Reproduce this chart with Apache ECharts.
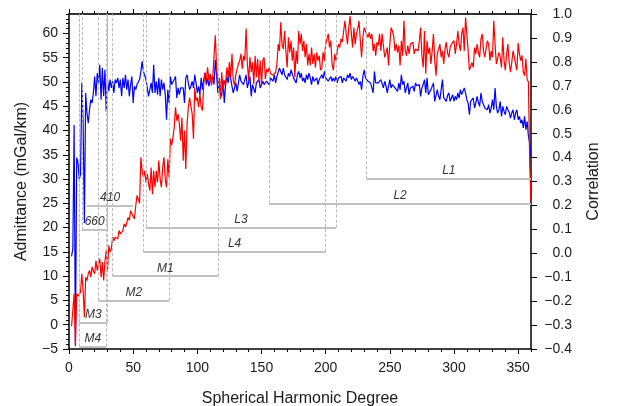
<!DOCTYPE html>
<html>
<head>
<meta charset="utf-8">
<script src="https://cdn.jsdelivr.net/npm/echarts@6/dist/echarts.min.js"></script>
<style>
html, body { margin: 0; padding: 0; background: #fff; }
#chart { width: 621px; height: 406px; }
</style>
</head>
<body>
<div id="chart"></div>
<script>
// Spherical harmonic degrees covered by both spectra
const firstDegree = 2;

// Admittance in mGal/km, one value per degree from 2 to 360 (left axis)
const admittance = [
  -0.3, 0.0, 6.4, -4.3, 6.4, 5.9, 5.7, 6.7, 10.5, 7.0,
  1.6, 9.8, 9.1, 10.5, 11.2, 9.8, 11.9, 11.0, 10.5, 13.2,
  11.2, 12.5, 13.6, 9.8, 12.9, 9.1, 13.0, 15.3, 11.2, 16.3,
  15.0, 15.6, 18.0, 17.3, 18.0, 18.4, 17.7, 19.4, 18.7, 19.0,
  19.4, 20.8, 20.1, 21.0, 22.1, 21.5, 23.5, 22.8, 22.5, 21.8,
  24.5, 26.6, 25.9, 25.0, 34.5, 31.7, 30.4, 31.7, 29.3, 31.1,
  29.0, 27.6, 32.4, 26.9, 31.7, 28.3, 31.7, 29.3, 33.8, 30.0,
  28.3, 32.4, 34.5, 30.0, 28.3, 34.1, 30.4, 38.3, 37.0, 38.6,
  40.7, 44.8, 42.0, 43.4, 41.3, 37.9, 42.7, 33.8, 40.0, 32.1,
  41.3, 44.8, 46.8, 45.0, 43.4, 38.3, 48.9, 46.1, 46.8, 44.8,
  47.5, 44.8, 44.1, 49.6, 52.0, 50.3, 53.0, 50.3, 51.7, 49.3,
  51.0, 51.4, 59.6, 53.0, 49.3, 50.6, 46.5, 52.0, 48.2, 50.3,
  49.3, 53.0, 51.0, 54.1, 51.0, 55.8, 50.3, 49.3, 51.5, 52.7,
  53.7, 54.4, 55.8, 52.7, 55.4, 54.4, 61.0, 53.7, 50.3, 55.1,
  52.0, 54.1, 49.6, 55.4, 51.0, 54.8, 50.3, 54.4, 49.3, 54.4,
  55.1, 50.6, 52.7, 52.0, 53.0, 51.7, 52.0, 51.4, 51.8, 52.0,
  53.7, 57.8, 56.4, 62.3, 57.8, 56.8, 60.5, 56.4, 53.0, 59.2,
  56.1, 58.5, 54.4, 57.1, 51.0, 56.4, 53.7, 60.5, 57.8, 59.9,
  56.4, 58.5, 55.1, 57.8, 53.4, 55.8, 53.4, 57.1, 53.7, 55.8,
  53.0, 56.1, 54.4, 55.4, 52.4, 53.0, 56.1, 54.4, 57.8, 57.5,
  59.9, 57.1, 58.5, 53.7, 52.4, 55.8, 54.4, 56.4, 57.8, 57.1,
  58.9, 58.2, 60.5, 62.6, 59.9, 57.8, 61.2, 63.6, 59.9, 57.1,
  61.2, 57.8, 59.9, 61.0, 62.6, 58.5, 55.1, 59.2, 61.2, 60.5,
  60.5, 59.2, 60.2, 58.9, 59.9, 56.4, 57.8, 55.4, 58.2, 57.5,
  59.9, 56.4, 59.9, 57.5, 55.1, 56.0, 57.1, 53.4, 57.8, 61.2,
  60.5, 59.5, 56.4, 57.8, 56.1, 57.5, 53.4, 58.5, 55.4, 62.6,
  56.4, 55.4, 57.5, 55.8, 57.8, 57.5, 58.2, 55.8, 56.8, 57.0,
  56.4, 58.5, 61.2, 55.4, 53.0, 60.5, 51.7, 58.5, 55.8, 57.1,
  53.7, 56.4, 59.9, 54.4, 51.3, 55.8, 56.1, 57.8, 55.1, 56.4,
  53.7, 56.8, 58.2, 56.0, 55.1, 57.1, 57.8, 57.8, 58.5, 55.8,
  57.8, 60.5, 57.8, 56.4, 59.9, 61.2, 56.4, 63.3, 59.9, 56.4,
  52.4, 52.7, 54.0, 53.0, 57.1, 55.8, 57.8, 56.0, 55.1, 58.9,
  59.9, 56.4, 55.1, 55.4, 58.5, 57.8, 54.4, 56.4, 55.1, 62.6,
  57.8, 53.7, 53.7, 56.1, 55.1, 53.0, 59.2, 54.4, 52.4, 55.8,
  57.8, 54.0, 52.0, 54.0, 56.4, 55.1, 53.7, 52.4, 58.0, 55.8,
  54.4, 55.5, 52.0, 51.3, 54.8, 50.5, 50.0, 33.0, 25.4
];

// Correlation coefficient, one value per degree from 2 to 360 (right axis)
const correlation = [
  -0.013, 0.02, 0.536, -0.388, 0.400, 0.380, 0.310, 0.330, 0.712, 0.550,
  0.127, 0.670, 0.586, 0.544, 0.600, 0.642, 0.628, 0.670, 0.739, 0.656,
  0.753, 0.712, 0.788, 0.642, 0.774, 0.656, 0.767, 0.593, 0.726, 0.677,
  0.726, 0.691, 0.719, 0.670, 0.726, 0.712, 0.733, 0.691, 0.726, 0.656,
  0.733, 0.691, 0.746, 0.684, 0.726, 0.656, 0.705, 0.739, 0.628, 0.698,
  0.684, 0.705, 0.698, 0.726, 0.760, 0.802, 0.760, 0.767, 0.726, 0.733,
  0.656, 0.684, 0.712, 0.670, 0.788, 0.670, 0.719, 0.663, 0.733, 0.656,
  0.726, 0.684, 0.712, 0.663, 0.558, 0.684, 0.628, 0.739, 0.705, 0.705,
  0.726, 0.739, 0.649, 0.691, 0.663, 0.691, 0.684, 0.691, 0.628, 0.733,
  0.746, 0.712, 0.684, 0.698, 0.719, 0.691, 0.746, 0.712, 0.670, 0.698,
  0.663, 0.733, 0.684, 0.726, 0.753, 0.705, 0.733, 0.698, 0.726, 0.719,
  0.739, 0.705, 0.809, 0.746, 0.670, 0.733, 0.670, 0.656, 0.726, 0.628,
  0.705, 0.739, 0.712, 0.760, 0.730, 0.698, 0.670, 0.663, 0.712, 0.677,
  0.712, 0.746, 0.719, 0.726, 0.705, 0.712, 0.746, 0.691, 0.684, 0.739,
  0.656, 0.705, 0.705, 0.670, 0.712, 0.705, 0.726, 0.691, 0.705, 0.719,
  0.705, 0.712, 0.719, 0.712, 0.705, 0.733, 0.726, 0.719, 0.746, 0.712,
  0.739, 0.739, 0.774, 0.760, 0.746, 0.774, 0.746, 0.739, 0.726, 0.753,
  0.739, 0.767, 0.750, 0.733, 0.726, 0.712, 0.746, 0.760, 0.733, 0.753,
  0.719, 0.733, 0.712, 0.746, 0.726, 0.753, 0.733, 0.705, 0.739, 0.719,
  0.726, 0.733, 0.705, 0.726, 0.719, 0.746, 0.730, 0.760, 0.733, 0.726,
  0.719, 0.712, 0.739, 0.719, 0.733, 0.719, 0.739, 0.712, 0.733, 0.726,
  0.739, 0.712, 0.733, 0.726, 0.719, 0.746, 0.733, 0.753, 0.726, 0.739,
  0.730, 0.719, 0.733, 0.726, 0.705, 0.719, 0.684, 0.739, 0.767, 0.733,
  0.726, 0.719, 0.726, 0.712, 0.719, 0.670, 0.760, 0.712, 0.719, 0.712,
  0.705, 0.726, 0.733, 0.691, 0.719, 0.700, 0.670, 0.677, 0.726, 0.691,
  0.705, 0.712, 0.691, 0.691, 0.677, 0.712, 0.684, 0.746, 0.705, 0.719,
  0.670, 0.691, 0.712, 0.663, 0.691, 0.684, 0.698, 0.677, 0.712, 0.700,
  0.698, 0.705, 0.656, 0.691, 0.705, 0.726, 0.670, 0.733, 0.663, 0.663,
  0.684, 0.684, 0.712, 0.635, 0.628, 0.684, 0.656, 0.642, 0.684, 0.726,
  0.649, 0.656, 0.635, 0.660, 0.670, 0.635, 0.649, 0.663, 0.635, 0.656,
  0.642, 0.670, 0.649, 0.684, 0.663, 0.656, 0.691, 0.670, 0.642, 0.628,
  0.579, 0.635, 0.628, 0.649, 0.607, 0.628, 0.656, 0.630, 0.614, 0.670,
  0.635, 0.635, 0.607, 0.614, 0.600, 0.621, 0.586, 0.607, 0.642, 0.600,
  0.691, 0.614, 0.586, 0.600, 0.635, 0.572, 0.614, 0.593, 0.579, 0.614,
  0.600, 0.590, 0.565, 0.586, 0.600, 0.558, 0.586, 0.600, 0.558, 0.572,
  0.544, 0.558, 0.524, 0.572, 0.517, 0.551, 0.489, 0.461, 0.400
];

// Degree windows: label, first degree, last degree, level on the admittance axis
const windowNames  = ['L1', 'L2', 'L3', 'L4', 'M1', 'M2', 'M3', 'M4', '410', '660'];
const windowStart  = [232, 156, 60, 58, 34, 23, 8, 8, 14, 10];
const windowEnd    = [360, 360, 208, 200, 116, 78, 30, 29, 50, 30];
const windowLevel  = [30, 25, 20, 15, 10, 5, 0.5, -4.5, 24.5, 19.5];
const windowGuides = [true, true, true, true, true, true, true, true, false, true];

// Axis ranges and tick spacing
const degreeRange = [0, 360];
const degreeMajor = 50;
const degreeMinor = 10;
const admittanceRange = [-5, 64];
const admittanceMajor = 5;
const admittanceMinor = 1;
const correlationRange = [-0.4, 1.0];
const correlationMajor = 0.1;

const FONT = '"Liberation Sans", Arial, Helvetica, sans-serif';
const INK = '#1a1a1a';
const minus = s => s.replace('-', '\u2212');

const redData = admittance.map((v, i) => [firstDegree + i, v]);
const blueData = correlation.map((v, i) => [firstDegree + i, v]);

// Window bars with their labels, and dashed guides rising to the top frame
const windowMarks = [];
windowNames.forEach((name, i) => {
  const lvl = windowLevel[i];
  windowMarks.push([
    {
      name: name,
      coord: [windowStart[i], lvl],
      lineStyle: { color: '#c2c2c2', width: 2, type: 'solid' },
      label: {
        show: true, formatter: '{b}', position: 'insideMiddleTop', distance: 2,
        fontFamily: FONT, fontStyle: 'italic', fontSize: 12, color: '#333'
      }
    },
    { coord: [windowEnd[i], lvl] }
  ]);
  if (windowGuides[i]) {
    [windowStart[i], windowEnd[i]].forEach(d => {
      if (d >= degreeRange[1]) return;
      windowMarks.push([
        { coord: [d, lvl], lineStyle: { color: '#b8b8b8', width: 1, type: [3, 2] }, label: { show: false } },
        { coord: [d, admittanceRange[1]] }
      ]);
    });
  }
});

const baseX = {
  type: 'value', min: degreeRange[0], max: degreeRange[1],
  splitLine: { show: false }
};

const chart = echarts.init(document.getElementById('chart'), null, { renderer: 'canvas' });
chart.setOption({
  animation: false,
  backgroundColor: '#fff',
  textStyle: { fontFamily: FONT },
  grid: { left: 69, right: 90, top: 14, bottom: 57, containLabel: false, outerBoundsMode: 'none' },
  xAxis: [
    Object.assign({}, baseX, {
      position: 'bottom', interval: degreeMajor,
      axisLine: { show: true, onZero: false, lineStyle: { color: '#000', width: 1.5 } },
      axisTick: { show: true, inside: false, length: 5, lineStyle: { color: '#000', width: 1 } },
      axisLabel: { show: true, fontSize: 14, color: INK, margin: 12, showMaxLabel: false, fontFamily: FONT },
      name: 'Spherical Harmonic Degree', nameLocation: 'middle', nameGap: 42,
      nameTextStyle: { fontSize: 16, color: INK, fontFamily: FONT }
    }),
    Object.assign({}, baseX, {
      position: 'bottom', interval: degreeMinor,
      axisLine: { show: false, onZero: false },
      axisTick: { show: true, inside: false, length: 3, lineStyle: { color: '#000', width: 1 } },
      axisLabel: { show: false }
    }),
    Object.assign({}, baseX, {
      position: 'top', interval: degreeMajor,
      axisLine: { show: true, onZero: false, lineStyle: { color: '#333', width: 2 } },
      axisTick: { show: true, inside: false, length: 5, lineStyle: { color: '#000', width: 1 } },
      axisLabel: { show: false }
    }),
    Object.assign({}, baseX, {
      position: 'top', interval: degreeMinor,
      axisLine: { show: false, onZero: false },
      axisTick: { show: true, inside: false, length: 3, lineStyle: { color: '#000', width: 1 } },
      axisLabel: { show: false }
    })
  ],
  yAxis: [
    {
      type: 'value', position: 'left',
      min: admittanceRange[0], max: admittanceRange[1], interval: admittanceMajor,
      splitLine: { show: false },
      axisLine: { show: true, onZero: false, lineStyle: { color: '#000', width: 1.5 } },
      axisTick: { show: true, inside: false, length: 6, lineStyle: { color: '#000', width: 1 } },
      axisLabel: {
        show: true, fontSize: 14, color: INK, margin: 11, showMaxLabel: false, fontFamily: FONT,
        formatter: v => minus(String(v))
      },
      name: 'Admittance (mGal/km)', nameLocation: 'middle', nameGap: 39, nameRotate: 90,
      nameTextStyle: { fontSize: 16, color: INK, fontFamily: FONT }
    },
    {
      type: 'value', position: 'right',
      min: correlationRange[0], max: correlationRange[1], interval: correlationMajor,
      splitLine: { show: false },
      axisLine: { show: true, onZero: false, lineStyle: { color: '#000', width: 1.5 } },
      axisTick: { show: true, inside: false, length: 6, lineStyle: { color: '#000', width: 1 } },
      axisLabel: {
        show: true, fontSize: 14, color: INK, margin: 41, align: 'right', fontFamily: FONT,
        formatter: v => minus(Number(v).toFixed(1))
      },
      name: 'Correlation', nameLocation: 'middle', nameGap: 55, nameRotate: 90,
      nameTextStyle: { fontSize: 16, color: INK, fontFamily: FONT }
    },
    {
      type: 'value', position: 'left',
      min: admittanceRange[0], max: admittanceRange[1], interval: admittanceMinor,
      splitLine: { show: false },
      axisLine: { show: false, onZero: false },
      axisTick: { show: true, inside: false, length: 3, lineStyle: { color: '#000', width: 1 } },
      axisLabel: { show: false }
    }
  ],
  series: [
    {
      name: 'windows', type: 'line', xAxisIndex: 0, yAxisIndex: 0,
      data: [], silent: true, z: 1,
      markLine: { symbol: ['none', 'none'], silent: true, animation: false, data: windowMarks }
    },
    {
      name: 'Correlation', type: 'line', xAxisIndex: 0, yAxisIndex: 1,
      data: blueData, showSymbol: false, z: 3,
      lineStyle: { color: '#0000ff', width: 1.2 }, itemStyle: { color: '#0000ff' }
    },
    {
      name: 'Admittance', type: 'line', xAxisIndex: 0, yAxisIndex: 0,
      data: redData, showSymbol: false, z: 4,
      lineStyle: { color: '#ff0000', width: 1.2 }, itemStyle: { color: '#ff0000' }
    }
  ]
});
</script>
</body>
</html>
